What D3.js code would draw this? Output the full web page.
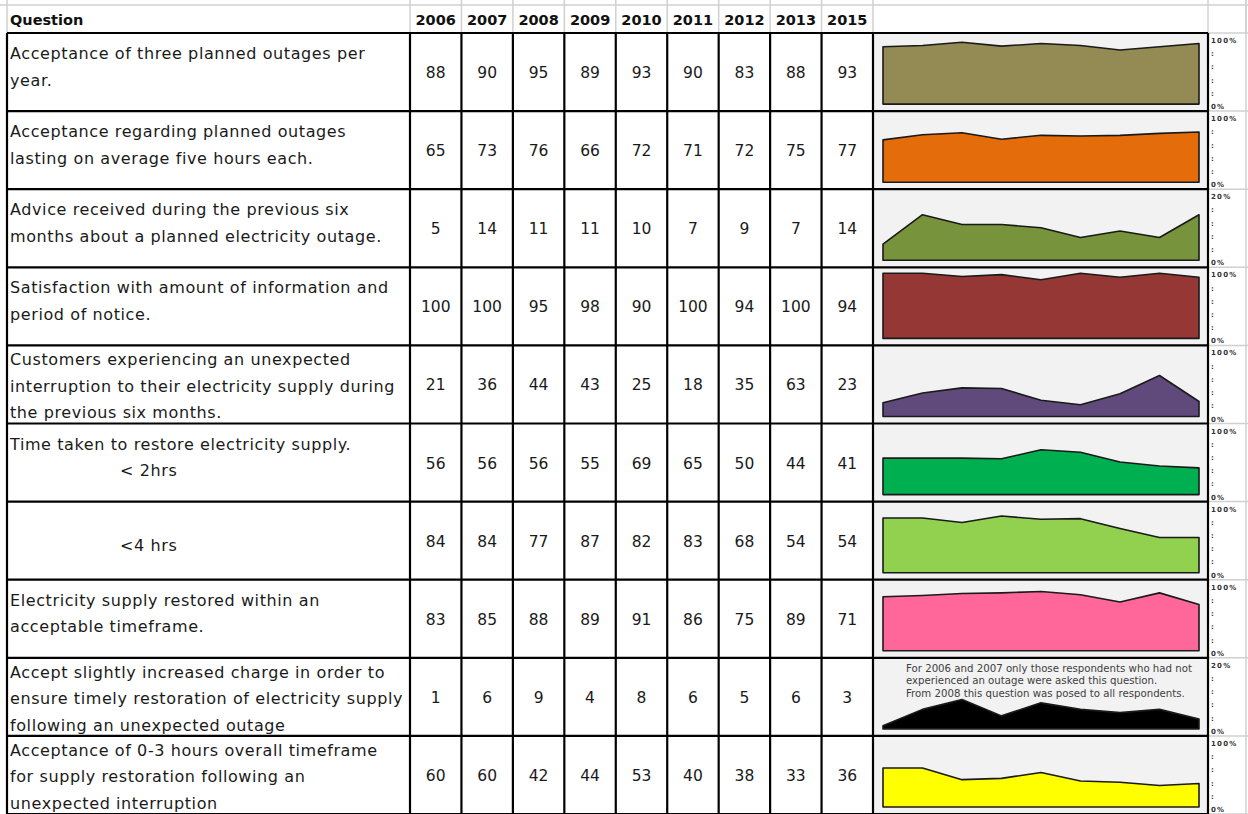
<!DOCTYPE html>
<html><head><meta charset="utf-8">
<script src="https://cdn.jsdelivr.net/npm/d3@7"></script>
<style>
html,body{margin:0;padding:0;background:#fff;}
svg{display:block;}
</style></head>
<body>
<svg id="c" width="1248" height="814"></svg>
<script>
const years = ["2006","2007","2008","2009","2010","2011","2012","2013","2015"];
const headerLabel = "Question";
const questions = [
  ["Acceptance of three planned outages per", "year."],
  ["Acceptance regarding planned outages", "lasting on average five hours each."],
  ["Advice received during the previous six", "months about a planned electricity outage."],
  ["Satisfaction with amount of information and", "period of notice."],
  ["Customers experiencing an unexpected", "interruption to their electricity supply during", "the previous six months."],
  ["Time taken to restore electricity supply.", "< 2hrs"],
  ["<4 hrs"],
  ["Electricity supply restored within an", "acceptable timeframe."],
  ["Accept slightly increased charge in order to", "ensure timely restoration of electricity supply", "following an unexpected outage"],
  ["Acceptance of 0-3 hours overall timeframe", "for supply restoration following an", "unexpected interruption"]
];
const values = [
  [88, 90, 95, 89, 93, 90, 83, 88, 93],
  [65, 73, 76, 66, 72, 71, 72, 75, 77],
  [5, 14, 11, 11, 10, 7, 9, 7, 14],
  [100, 100, 95, 98, 90, 100, 94, 100, 94],
  [21, 36, 44, 43, 25, 18, 35, 63, 23],
  [56, 56, 56, 55, 69, 65, 50, 44, 41],
  [84, 84, 77, 87, 82, 83, 68, 54, 54],
  [83, 85, 88, 89, 91, 86, 75, 89, 71],
  [1, 6, 9, 4, 8, 6, 5, 6, 3],
  [60, 60, 42, 44, 53, 40, 38, 33, 36]
];
const scaleMax = [100, 100, 20, 100, 100, 100, 100, 100, 20, 100];
const maxLabels = ["100%", "100%", "20%", "100%", "100%", "100%", "100%", "100%", "20%", "100%"];
const minLabel = "0%";
const noteLines = [
  "For 2006 and 2007 only those respondents who had not",
  "experienced an outage were asked this question.",
  "From 2008 this question was posed to all respondents."
];
const noteRow = 8;
const colors = ["#948A54", "#E46C0A", "#77933C", "#953735", "#604A7B", "#00B050", "#92D050", "#FF6699", "#000000", "#FFFF00"];

// ---------- layout ----------
const svg = d3.select("#c");
const font = "'DejaVu Sans', sans-serif";
const qLeft = 7, qRight = 410, yearsRight = 873, sparkRight = 1208, labelRight = 1246;
const headTop = 5, headBottom = 33, tableBottom = 814;

const rowY = d3.scaleLinear().domain([0, questions.length]).range([headBottom, tableBottom]);
const colX = d3.scaleBand().domain(years).range([qRight, yearsRight]);

// header grid (light grey)
const grid = svg.append("g").attr("stroke", "#d0d0d0").attr("stroke-width", 1.5);
grid.append("line").attr("x1", 0).attr("x2", 1248).attr("y1", headTop).attr("y2", headTop);
[qLeft, qRight].concat(years.map(y => colX(y) + colX.bandwidth()), [sparkRight, labelRight]).forEach(x => {
  grid.append("line").attr("x1", x).attr("x2", x).attr("y1", 0).attr("y2", headBottom);
});
grid.append("line").attr("x1", labelRight).attr("x2", labelRight).attr("y1", 0).attr("y2", tableBottom);
d3.range(questions.length + 1).forEach(i => {
  grid.append("line").attr("x1", sparkRight).attr("x2", 1248).attr("y1", rowY(i)).attr("y2", rowY(i));
});

// header text
svg.append("text").attr("x", 10).attr("y", headBottom - 8).attr("font-family", font)
  .attr("font-weight", "bold").attr("font-size", 14.5).attr("fill", "#111").text(headerLabel);
svg.selectAll("text.yr").data(years).enter().append("text").attr("class", "yr")
  .attr("x", d => colX(d) + colX.bandwidth() / 2).attr("y", headBottom - 8)
  .attr("text-anchor", "middle").attr("font-family", font).attr("font-weight", "bold")
  .attr("font-size", 14.5).attr("fill", "#111").text(d => d);

// sparkline scales
const sx = d3.scalePoint().domain(years).range([883, 1199]);

const rows = svg.selectAll("g.row").data(values).enter().append("g").attr("class", "row");

rows.each(function (vals, i) {
  const g = d3.select(this);
  const top = rowY(i), bot = rowY(i + 1);
  // grey chart background
  g.append("rect").attr("x", yearsRight + 1).attr("y", top + 1)
    .attr("width", sparkRight - yearsRight - 2).attr("height", bot - top - 2).attr("fill", "#f2f2f2");
  const sy = d3.scaleLinear().domain([0, scaleMax[i]]).range([bot - 7, top + 6]);
  const area = d3.area().x((d, j) => sx(years[j])).y0(sy(0)).y1(d => sy(d));
  g.append("path").datum(vals).attr("d", area).attr("fill", colors[i])
    .attr("stroke", "#1a1a1a").attr("stroke-width", 1.6).attr("stroke-linejoin", "round");
  // question text
  const lines = questions[i];
  const first = lines.length >= 3 ? top + 20 : (lines.length === 1 ? top + 49 : top + 26);
  lines.forEach((t, k) => {
    const indent = t.startsWith("<") ? 120 : 10;
    g.append("text").attr("x", indent).attr("y", first + k * 26.5).attr("font-family", font)
      .attr("font-size", 16).attr("letter-spacing", 0.6).attr("fill", "#1a1a1a").text(t);
  });
  // numbers
  g.selectAll("text.num").data(vals).enter().append("text").attr("class", "num")
    .attr("x", (d, j) => colX(years[j]) + colX.bandwidth() / 2).attr("y", (top + bot) / 2 + 6)
    .attr("text-anchor", "middle").attr("font-family", font).attr("font-size", 15.5)
    .attr("fill", "#1a1a1a").text(d => d);
  // axis labels
  const lab = g.append("g").attr("font-family", font).attr("font-size", 7).attr("font-weight", "bold")
    .attr("fill", "#333").attr("letter-spacing", 1.2);
  lab.append("text").attr("x", sparkRight + 3).attr("y", top + 10).text(maxLabels[i]);
  lab.append("text").attr("x", sparkRight + 3).attr("y", bot - 2).text(minLabel);
  d3.range(1, 5).forEach(k => {
    lab.append("text").attr("x", sparkRight + 3).attr("y", top + 10 + k * (bot - top - 12) / 5).text(":");
  });
});

// note
const note = svg.append("g").attr("font-family", font).attr("font-size", 10.2).attr("fill", "#404040");
noteLines.forEach((t, k) => {
  note.append("text").attr("x", 906).attr("y", rowY(noteRow) + 14 + k * 12.5).text(t);
});

// black borders
const bl = svg.append("g").attr("stroke", "#000").attr("stroke-width", 2.2).attr("fill", "none");
d3.range(questions.length + 1).forEach(i => {
  bl.append("line").attr("x1", qLeft).attr("x2", sparkRight).attr("y1", rowY(i)).attr("y2", rowY(i));
});
[qLeft, qRight].concat(years.map(y => colX(y) + colX.bandwidth()), [sparkRight]).forEach(x => {
  bl.append("line").attr("x1", x).attr("x2", x).attr("y1", headBottom).attr("y2", tableBottom);
});
</script>
</body></html>
